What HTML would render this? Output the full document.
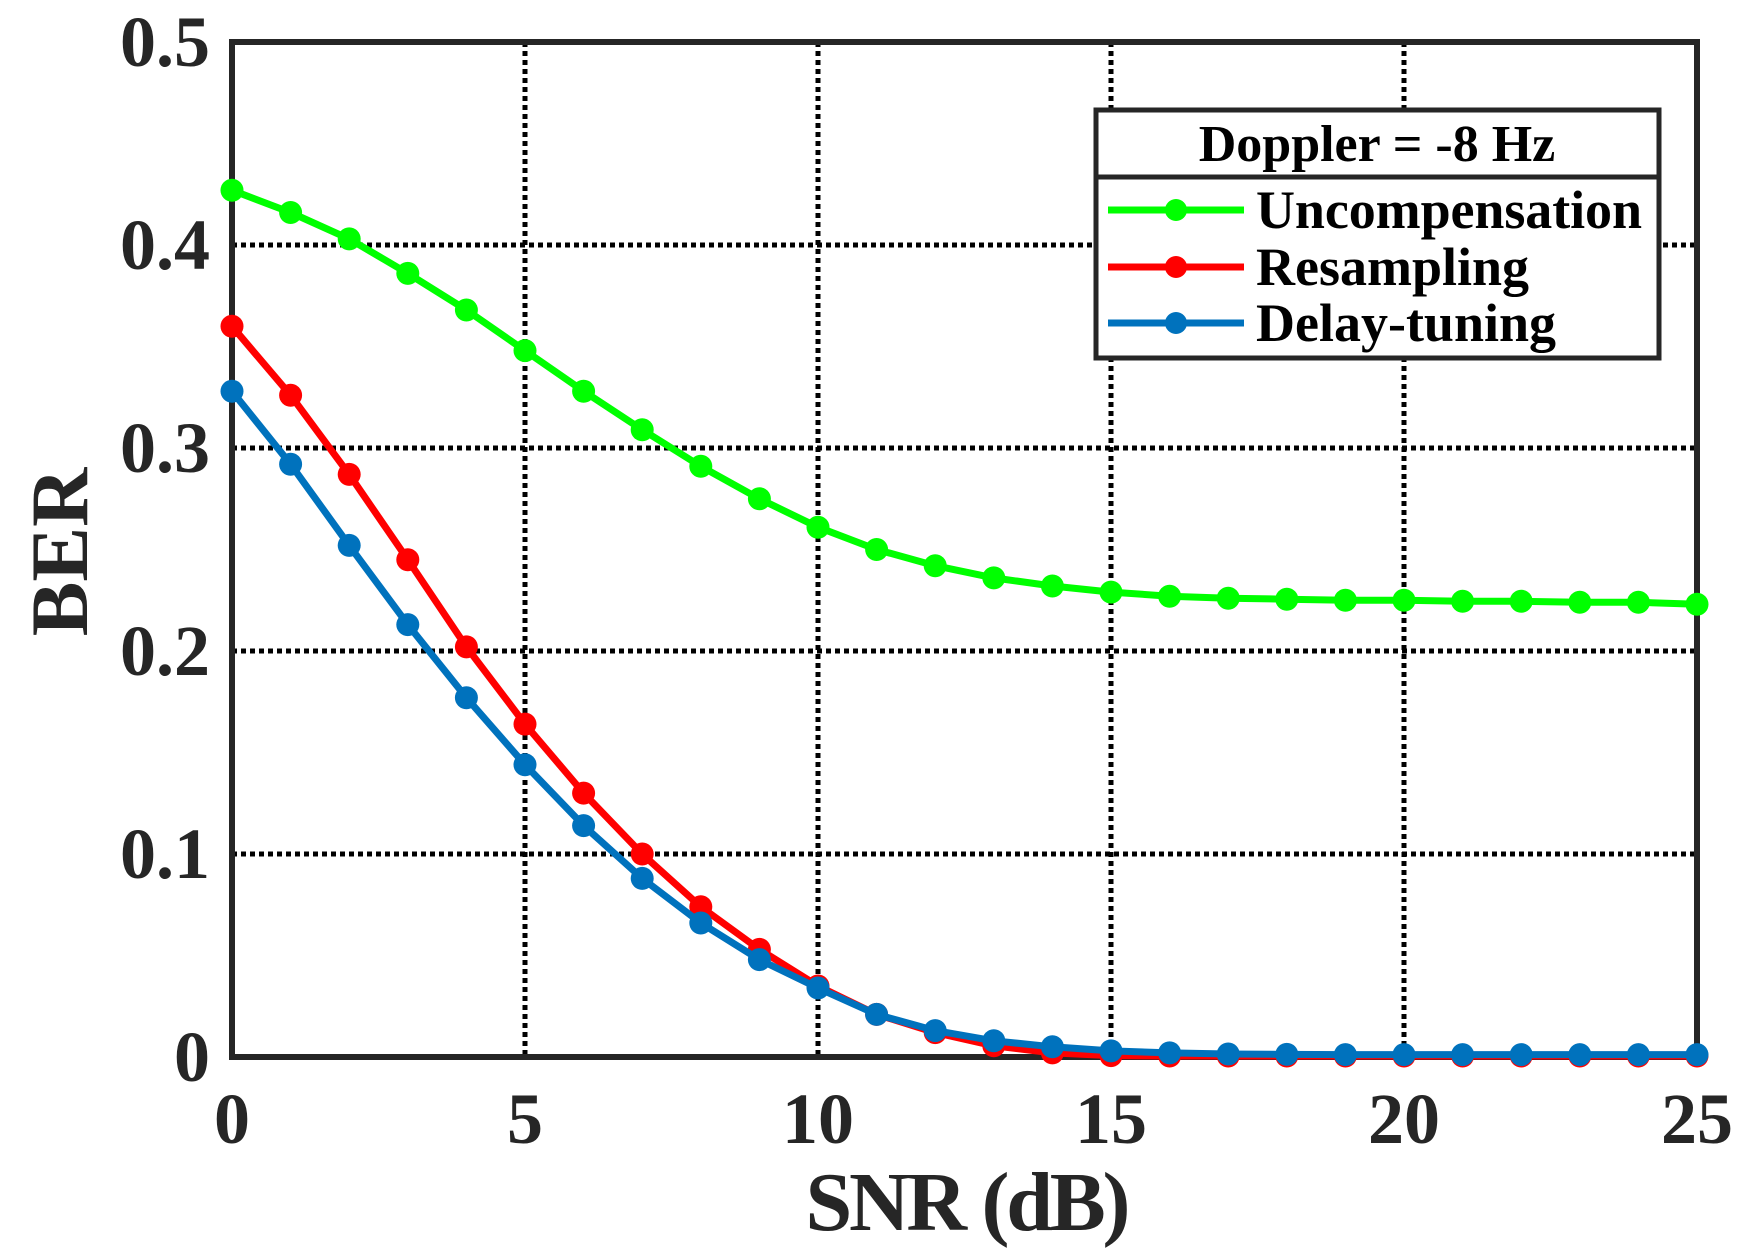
<!DOCTYPE html>
<html><head><meta charset="utf-8"><style>html,body{margin:0;padding:0;background:#fff}svg{display:block}</style></head>
<body>
<svg width="1751" height="1256" viewBox="0 0 1751 1256" xmlns="http://www.w3.org/2000/svg" font-family="Liberation Serif, serif" font-weight="bold">
<rect width="1751" height="1256" fill="#fff"/>
<g stroke="#000" stroke-width="5" stroke-dasharray="5 4" fill="none">
<line x1="525" y1="42" x2="525" y2="1057"/>
<line x1="818" y1="42" x2="818" y2="1057"/>
<line x1="1111" y1="42" x2="1111" y2="1057"/>
<line x1="1404" y1="42" x2="1404" y2="1057"/>
<line x1="232" y1="245" x2="1697" y2="245"/>
<line x1="232" y1="448" x2="1697" y2="448"/>
<line x1="232" y1="651" x2="1697" y2="651"/>
<line x1="232" y1="854" x2="1697" y2="854"/>
</g>
<rect x="232" y="42" width="1465" height="1015" fill="none" stroke="#262626" stroke-width="6"/>
<g fill="#262626" font-size="72" text-anchor="end">
<text x="210" y="66">0.5</text><text x="210" y="269">0.4</text><text x="210" y="472">0.3</text>
<text x="210" y="675">0.2</text><text x="210" y="878">0.1</text><text x="210" y="1081">0</text>
</g>
<g fill="#262626" font-size="72" text-anchor="middle">
<text x="232" y="1143">0</text><text x="525" y="1143">5</text><text x="818" y="1143">10</text>
<text x="1111" y="1143">15</text><text x="1404" y="1143">20</text><text x="1697" y="1143">25</text>
</g>
<text x="968" y="1230" font-size="84" fill="#262626" text-anchor="middle" textLength="325">SNR (dB)</text>
<text transform="translate(87,552) rotate(-90)" font-size="82" fill="#262626" text-anchor="middle">BER</text>
<g id="series"></g>
<g stroke="#262626" stroke-width="5" fill="#fff">
<rect x="1096" y="110" width="563" height="248"/>
<line x1="1096" y1="177" x2="1659" y2="177"/>
</g>
<text x="1377" y="161" font-size="52" fill="#000" text-anchor="middle">Doppler = -8 Hz</text>
<g stroke-width="7">
<line x1="1108" y1="210" x2="1244" y2="210" stroke="#00ff00"/>
<line x1="1108" y1="267" x2="1244" y2="267" stroke="#ff0000"/>
<line x1="1108" y1="323" x2="1244" y2="323" stroke="#0072bd"/>
</g>
<circle cx="1176" cy="210" r="11" fill="#00ff00"/>
<circle cx="1176" cy="267" r="11" fill="#ff0000"/>
<circle cx="1176" cy="323" r="11" fill="#0072bd"/>
<g font-size="54" fill="#000">
<text x="1256" y="228" textLength="386">Uncompensation</text>
<text x="1256" y="285">Resampling</text>
<text x="1256" y="341">Delay-tuning</text>
</g>
</svg>
<script>
var G=[0.427,0.416,0.403,0.386,0.368,0.348,0.328,0.309,0.291,0.275,0.261,0.25,0.242,0.236,0.232,0.229,0.227,0.226,0.2255,0.225,0.225,0.2245,0.2245,0.224,0.224,0.223];
var R=[0.360,0.326,0.287,0.245,0.202,0.164,0.130,0.100,0.074,0.053,0.035,0.021,0.012,0.0055,0.002,0.0007,0.0005,0.0005,0.0005,0.0005,0.0005,0.0005,0.0005,0.0005,0.0005,0.0005];
var B=[0.328,0.292,0.252,0.213,0.177,0.144,0.114,0.088,0.066,0.048,0.034,0.021,0.013,0.008,0.005,0.003,0.002,0.0015,0.0013,0.0012,0.0012,0.0012,0.0012,0.0012,0.0012,0.0012];
var g=document.getElementById('series'),h='';
function s(d,c){var p='';for(var i=0;i<d.length;i++){p+=(232+i*58.6).toFixed(1)+','+(1057-d[i]*2030).toFixed(1)+' ';}
h+='<polyline points="'+p+'" fill="none" stroke="'+c+'" stroke-width="7" stroke-linejoin="round"/>';
for(var i=0;i<d.length;i++){h+='<circle cx="'+(232+i*58.6).toFixed(1)+'" cy="'+(1057-d[i]*2030).toFixed(1)+'" r="11.5" fill="'+c+'"/>';}}
s(G,'#00ff00');s(R,'#ff0000');s(B,'#0072bd');
g.innerHTML=h;
</script>
</body></html>
